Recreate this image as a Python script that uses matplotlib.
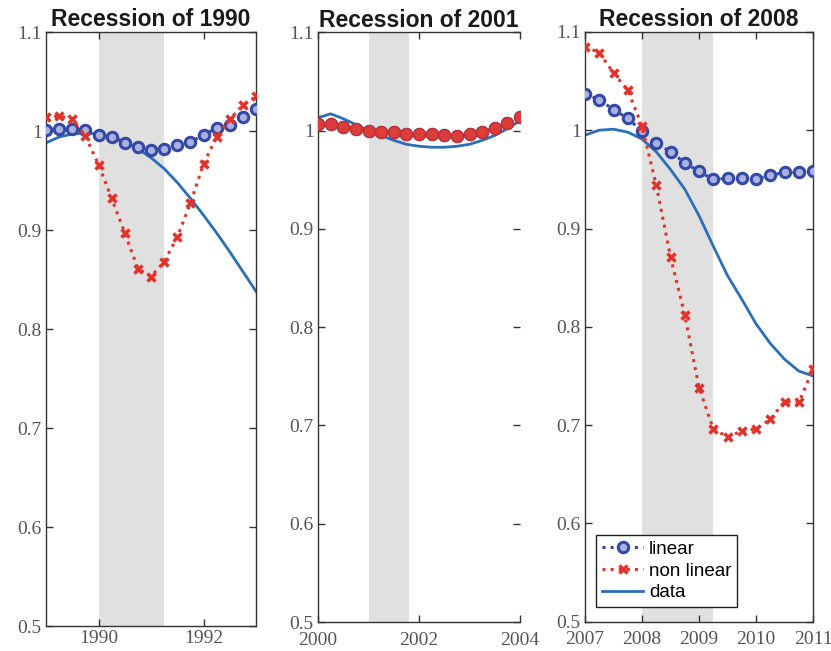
import matplotlib.pyplot as plt
import numpy as np

# --- data (quarterly) ---
t_1990 = np.arange(1989.0, 1993.01, 0.25)
lin_1990 = [1.001, 1.002, 1.002, 1.001, 0.996, 0.994, 0.988, 0.984, 0.981,
            0.982, 0.986, 0.989, 0.996, 1.003, 1.006, 1.014, 1.022]
nonlin_1990 = [1.014, 1.015, 1.012, 0.995, 0.966, 0.932, 0.897, 0.861, 0.853,
               0.868, 0.893, 0.927, 0.967, 0.994, 1.012, 1.026, 1.035]
data_1990 = [0.988, 0.994, 0.997, 0.998, 0.997, 0.994, 0.989, 0.982, 0.973,
             0.962, 0.948, 0.932, 0.915, 0.897, 0.878, 0.858, 0.838]

t_2001 = np.arange(2000.0, 2004.01, 0.25)
lin_2001 = [1.007, 1.007, 1.004, 1.002, 1.000, 0.998, 0.998, 0.996, 0.996,
            0.996, 0.995, 0.994, 0.996, 0.998, 1.003, 1.008, 1.014]
nonlin_2001 = [1.007, 1.007, 1.004, 1.002, 1.000, 0.998, 0.998, 0.996, 0.996,
               0.996, 0.995, 0.994, 0.996, 0.998, 1.003, 1.008, 1.014]
data_2001 = [1.013, 1.017, 1.012, 1.006, 1.000, 0.995, 0.990, 0.986, 0.984,
             0.983, 0.983, 0.984, 0.986, 0.990, 0.995, 1.002, 1.010]

t_2008 = np.arange(2007.0, 2011.01, 0.25)
lin_2008 = [1.037, 1.031, 1.021, 1.012, 0.999, 0.987, 0.978, 0.967, 0.958,
            0.950, 0.951, 0.951, 0.950, 0.954, 0.957, 0.957, 0.959]
nonlin_2008 = [1.085, 1.079, 1.058, 1.041, 1.004, 0.944, 0.871, 0.812, 0.738,
               0.696, 0.688, 0.694, 0.696, 0.706, 0.724, 0.723, 0.757]
data_2008 = [0.995, 1.000, 1.001, 0.998, 0.991, 0.978, 0.960, 0.940, 0.913,
             0.882, 0.852, 0.828, 0.803, 0.783, 0.767, 0.755, 0.750]

titles = ['Recession of 1990', 'Recession of 2001', 'Recession of 2008']
shade = [(1990.0, 1991.25), (2001.0, 2001.8), (2008.0, 2009.25)]
xlims = [(1989, 1993), (2000, 2004), (2007, 2011)]
xticks = [[1990, 1992], [2000, 2002, 2004], [2007, 2008, 2009, 2010, 2011]]
yticks = [0.5, 0.6, 0.7, 0.8, 0.9, 1.0, 1.1]
ytick_labels = ['0.5', '0.6', '0.7', '0.8', '0.9', '1', '1.1']

c_lin = '#3448a8'
c_non = '#e4322b'
c_data = '#2a6fb8'

fig = plt.figure(figsize=(8.31, 6.51), dpi=100)
positions = [[0.0554, 0.0384, 0.2527, 0.9124],
             [0.3827, 0.0445, 0.2431, 0.906],
             [0.704, 0.045, 0.2744, 0.906]]
xpads = [3, 7, 7]
series = [(t_1990, lin_1990, nonlin_1990, data_1990),
          (t_2001, lin_2001, nonlin_2001, data_2001),
          (t_2008, lin_2008, nonlin_2008, data_2008)]

for i, (t, lin, non, dat) in enumerate(series):
    ax = fig.add_axes(positions[i])
    ax.axvspan(*shade[i], color='#e0e0e0', lw=0, zorder=0)
    ax.plot(t, dat, color=c_data, lw=2, label='data', zorder=2)
    ax.plot(t, lin, color=c_lin, ls=':', lw=2.2, marker='o', ms=7.5,
            mfc='#a9b2de', mec=c_lin, mew=2.2, label='linear', zorder=3)
    if i == 1:
        ax.plot(t, non, color=c_non, ls=':', lw=2.2, marker='o', ms=8.5,
                mfc='#de3b3b', mec='#c83030', mew=1, label='non linear', zorder=4)
    else:
        ax.plot(t, non, color=c_non, ls=':', lw=2.2, marker='x', ms=6,
                mew=2.5, label='non linear', zorder=4)
    ax.set_xlim(*xlims[i])
    ax.set_ylim(0.5, 1.1)
    ax.set_xticks(xticks[i])
    ax.set_yticks(yticks)
    ax.set_yticklabels(ytick_labels)
    ax.tick_params(direction='in', length=5, width=1, top=True, right=True,
                   colors='#333333', labelcolor='#555555', pad=3)
    ax.tick_params(axis='x', pad=xpads[i])
    for lab in ax.get_xticklabels() + ax.get_yticklabels():
        lab.set_fontfamily('Liberation Serif')
        lab.set_fontsize(14)
    for sp in ax.spines.values():
        sp.set_color('#333333')
        sp.set_linewidth(1)
    if i == 1:
        ax.spines['right'].set_visible(False)
    ax.set_title(titles[i], fontsize=16.5, fontweight='bold',
                 family='Liberation Sans', color='#1a1a1a', pad=4)
    if i == 2:
        h, l = ax.get_legend_handles_labels()
        order = [1, 2, 0]
        leg = ax.legend([h[k] for k in order], [l[k] for k in order],
                        loc='lower left', bbox_to_anchor=(0.05, 0.025),
                        prop={'family': 'Liberation Sans', 'size': 13.5},
                        fancybox=False, framealpha=1, edgecolor='#222222',
                        handlelength=2.2, handletextpad=0.3, borderpad=0.3,
                        labelspacing=0.25, borderaxespad=0)
        leg.get_frame().set_linewidth(1)

fig.savefig('out.png', dpi=100)
